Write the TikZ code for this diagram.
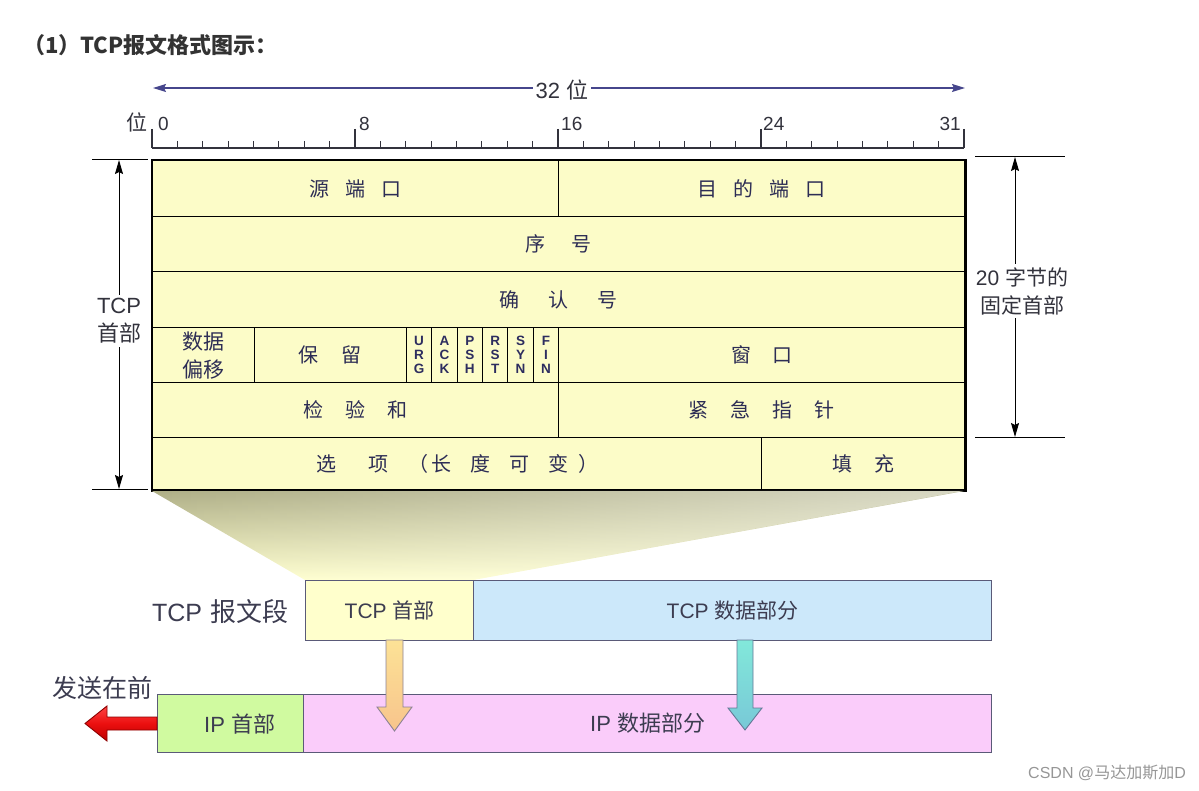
\documentclass[tikz,border=0pt]{standalone}
\usepackage{fontspec}
\usepackage{graphicx}
\setmainfont{Liberation Sans}
\newfontfamily\cjk{Noto Sans CJK SC}
\usetikzlibrary{arrows.meta,calc,fadings}
\definecolor{tabfill}{RGB}{252,252,200}
\definecolor{tabtext}{RGB}{45,45,85}
\definecolor{flagtext}{RGB}{45,45,95}
\definecolor{rulec}{RGB}{50,50,60}
\definecolor{navyc}{RGB}{70,70,140}
\definecolor{titlec}{RGB}{51,51,51}
\definecolor{shtop}{RGB}{175,175,135}
\definecolor{shbot}{RGB}{255,255,205}
\definecolor{tcpyel}{RGB}{255,255,204}
\definecolor{tcpblue}{RGB}{204,232,250}
\definecolor{ipgreen}{RGB}{208,250,160}
\definecolor{ippink}{RGB}{250,204,250}
\definecolor{boxline}{RGB}{90,90,120}
\definecolor{btext}{RGB}{60,60,80}
\definecolor{wmark}{RGB}{150,150,150}
\definecolor{ortop}{RGB}{252,226,150}
\definecolor{orbot}{RGB}{248,196,140}
\definecolor{orline}{RGB}{140,130,150}
\definecolor{tetop}{RGB}{130,232,218}
\definecolor{tebot}{RGB}{120,200,215}
\definecolor{teline}{RGB}{100,120,150}
\definecolor{rdtop}{RGB}{255,70,70}
\definecolor{rdmid}{RGB}{235,15,15}
\definecolor{rdbot}{RGB}{190,0,0}
\definecolor{rdline}{RGB}{140,0,0}
\tikzfading[name=fadetoright, left color=transparent!100, right color=transparent!0]
\begin{document}
\begin{tikzpicture}[x=1pt,y=-1pt,
  cell/.style={draw=black, line width=1.2pt, fill=tabfill, inner sep=0pt, anchor=north west,
    font=\cjk\fontsize{20}{24}\selectfont, text=tabtext},
  flag/.style={cell, minimum width=25.375pt, minimum height=55pt, align=center,
    font=\bfseries\fontsize{13.5}{14}\selectfont, text=flagtext},
  rlab/.style={font=\fontsize{19}{22}\selectfont, text=rulec, inner sep=0pt},
  dim/.style={line width=1pt, -{Stealth[length=14pt,width=8pt,inset=2pt]}},
  side/.style={font=\fontsize{21}{28}\selectfont, text=rulec, align=center},
  bbox/.style={draw=boxline, line width=1.2pt, anchor=north west, inner sep=0pt,
    font=\fontsize{21}{24}\selectfont, text=btext},
  blk/.style={draw=#1, line width=0.9pt}
]
\useasboundingbox (0,0) rectangle (1199,791);

% title
\node[anchor=west, inner sep=0pt, text=titlec, font=\cjk\bfseries\fontsize{22}{26}\selectfont] (title) at (23,45) {（1）TCP报文格式图示：};

% 32 bit arrow
\node[font=\fontsize{22}{26}\selectfont, text=rulec, inner sep=3pt] (t32) at (562,90) {32 {\cjk 位}};
\coordinate (al) at (153,88);
\coordinate (ar) at (965,88);
\draw[navyc, line width=1.3pt, -{Stealth[length=13pt,width=8pt,inset=2pt]}] (t32.west |- al) -- (al);
\draw[navyc, line width=1.3pt, -{Stealth[length=13pt,width=8pt,inset=2pt]}] (t32.east |- ar) -- (ar);

% ruler
\draw[rulec, line width=1.3pt] (152,148) -- (964,148);
\foreach \b in {1,...,31} \draw[rulec, line width=1.1pt] ({152+\b*25.375},141) -- ({152+\b*25.375},148);
\foreach \b in {0,8,16,24,32} \draw[rulec, line width=1.1pt] ({152+\b*25.375},129) -- ({152+\b*25.375},148);
\node[rlab, anchor=west] (n0) at (158,124) {0};
\node[rlab, anchor=west] (n8) at (359,124) {8};
\node[rlab, anchor=west] (n16) at (561,124) {16};
\node[rlab, anchor=west] (n24) at (763,124) {24};
\node[rlab, anchor=east] (n31) at (961,124) {31};
\node[rlab, anchor=east, font=\cjk\fontsize{21}{22}\selectfont] (wei) at (148,122) {位};

% header table
\node[cell, minimum width=406pt, minimum height=56pt] (src) at (152,160) {源\hspace{0.8em}端\hspace{0.8em}口};
\node[cell, minimum width=406pt, minimum height=56pt] (dst) at (558,160) {目\hspace{0.8em}的\hspace{0.8em}端\hspace{0.8em}口};
\node[cell, minimum width=812pt, minimum height=55pt] (seq) at (152,216) {序\hspace{1.3em}号};
\node[cell, minimum width=812pt, minimum height=56pt] (ack) at (152,271) {确\hspace{1.45em}认\hspace{1.45em}号};
\node[cell, minimum width=101.5pt, minimum height=55pt, align=center, font=\cjk\fontsize{21}{28}\selectfont] (off) at (152,327) {数据\\偏移};
\node[cell, minimum width=152.25pt, minimum height=55pt] (res) at (253.5,327) {保\hspace{1.15em}留};
\node[flag] (urg) at (405.75,327) {U\\R\\G};
\node[flag] (ackf) at (431.125,327) {A\\C\\K};
\node[flag] (psh) at (456.5,327) {P\\S\\H};
\node[flag] (rst) at (481.875,327) {R\\S\\T};
\node[flag] (syn) at (507.25,327) {S\\Y\\N};
\node[flag] (fin) at (532.625,327) {F\\I\\N};
\node[cell, minimum width=406pt, minimum height=55pt] (win) at (558,327) {窗\hspace{1.05em}口};
\node[cell, minimum width=406pt, minimum height=55pt] (chk) at (152,382) {检\hspace{1.1em}验\hspace{1.1em}和\hspace{0.5em}};
\node[cell, minimum width=406pt, minimum height=55pt] (urgp) at (558,382) {紧\hspace{1.1em}急\hspace{1.1em}指\hspace{1.1em}针};
\node[cell, minimum width=609pt, minimum height=52pt] (opt) at (152,437) {选\hspace{1.6em}项\hspace{1.0em}（\hspace{0.15em}长\hspace{0.95em}度\hspace{0.95em}可\hspace{0.95em}变\hspace{0.5em}）};
\node[cell, minimum width=203pt, minimum height=52pt] (pad) at (761,437) {填\hspace{1.1em}充};
\draw[black, line width=2.6pt] (src.north west) rectangle (pad.south east);

% left dimension
\draw[black, line width=1pt] (92,160) -- (148,160);
\draw[black, line width=1pt] (92,489) -- (148,489);
\coordinate (lt) at (119,160);
\coordinate (lb) at (119,489);
\node[side, font=\fontsize{22}{28}\selectfont] (tcpl) at (119,321) {TCP\\{\cjk 首部}};
\draw[dim] (tcpl.north -| lt) -- (lt);
\draw[dim] (tcpl.south -| lb) -- (lb);

% right dimension
\draw[black, line width=1pt] (975,157) -- (1065,157);
\draw[black, line width=1pt] (975,437) -- (1065,437);
\coordinate (rt) at (1015,157);
\coordinate (rb) at (1015,437);
\node[side] (rl) at (1022,291) {20 {\cjk 字节的}\\{\cjk 固定首部}};
\draw[dim] (rl.north -| rt) -- (rt);
\draw[dim] (rl.south -| rb) -- (rb);

% shadow trapezoid
\shade[top color=shtop, bottom color=shbot] (152,491) -- (964,491) -- (473,580) -- (305,580) -- cycle;
\fill[white, opacity=0.5, path fading=fadetoright] (152,491) -- (964,491) -- (473,580) -- (305,580) -- cycle;

% TCP segment
\node[anchor=east, inner sep=0pt, text=btext, font=\fontsize{25}{28}\selectfont] (seglab) at (289,612) {TCP\hspace{0.35em}{\cjk\fontsize{26}{28}\selectfont 报文段}};
\node[bbox, fill=tcpyel, minimum width=168pt, minimum height=60pt] (tcph) at (305,580) {TCP {\cjk 首部}};
\node[bbox, fill=tcpblue, minimum width=518pt, minimum height=60pt] (tcpd) at (473,580) {TCP {\cjk 数据部分}};

% IP datagram
\node[bbox, fill=ipgreen, minimum width=146pt, minimum height=58pt, font=\fontsize{22}{24}\selectfont] (iph) at (157,694) {\hspace*{18pt}IP {\cjk 首部}};
\node[bbox, fill=ippink, minimum width=688pt, minimum height=58pt, font=\fontsize{22}{24}\selectfont] (ipd) at (303,694) {IP {\cjk 数据部分}};
\node[inner sep=0pt, text=btext, font=\cjk\fontsize{25}{28}\selectfont] (send) at (102,688) {发送在前};

% block arrows
\shade[top color=ortop, bottom color=orbot, blk=orline]
  (386,640) -- (386,707) -- (377,707) -- (394.5,731) -- (412,707) -- (403,707) -- (403,640) -- cycle;
\shade[top color=tetop, bottom color=tebot, blk=teline]
  (737,640) -- (737,708) -- (728,708) -- (745,730) -- (762,708) -- (753,708) -- (753,640) -- cycle;
\shade[top color=rdtop, bottom color=rdbot, middle color=rdmid, blk=rdline]
  (iph.west |- 0,717) -- (107,717) -- (107,706) -- (85,723.5) -- (107,741) -- (107,730) -- (iph.west |- 0,730) -- cycle;

% watermark
\node[anchor=east, inner sep=0pt, text=wmark, font=\fontsize{16}{18}\selectfont] (wm) at (1186,773) {CSDN @{\cjk 马达加斯加}D};
\end{tikzpicture}
\end{document}
